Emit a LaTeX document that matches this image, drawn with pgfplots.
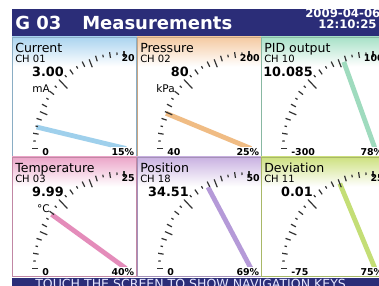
\documentclass[border=0pt]{standalone}
\usepackage{pgfplots}
\pgfplotsset{compat=1.18}
\usepackage{fontspec}
\setmainfont{DejaVu Sans}
\definecolor{navy}{HTML}{2B2D78}
\definecolor{hA}{HTML}{A9D3EF}\definecolor{nA}{HTML}{9FD0EC}
\definecolor{hB}{HTML}{F4C9A0}\definecolor{nB}{HTML}{F0BC84}
\definecolor{hC}{HTML}{A6E0C6}\definecolor{nC}{HTML}{9FDBBE}
\definecolor{hD}{HTML}{EBA5C8}\definecolor{nD}{HTML}{E48CBA}
\definecolor{hE}{HTML}{C8B0E0}\definecolor{nE}{HTML}{B59AD8}
\definecolor{hF}{HTML}{CDE07E}\definecolor{nF}{HTML}{C4DE76}
\newcommand{\panelbg}[3]{%
  \shade[top color=#3, bottom color=white] (#1,#2) rectangle ({#1+125},{#2+30});
  \draw[#3!70!black!60!#3, line width=0.8pt] ({#1+0.6},{#2+0.6}) rectangle ({#1+124.4},{#2+120.4});
}
\newcommand{\panelfg}[9]{%
  \foreach \k in {0,...,20}{%
    \pgfmathsetmacro\a{180-4.5*\k}%
    \pgfmathsetmacro\ri{ifthenelse(\k==10,80,ifthenelse(\k==5||\k==15,83,ifthenelse(\k==0,86,ifthenelse(mod(\k,2)==0,86.5,88.5))))}%
    \pgfmathsetmacro\ro{ifthenelse(mod(\k,2)==0,92,91)}%
    \draw[black!80, line width=0.9pt] ({#1+112+\ri*cos(\a)},{#2+112-1.06*\ri*sin(\a)}) -- ({#1+112+\ro*cos(\a)},{#2+112-1.06*\ro*sin(\a)});
  }
  \node[anchor=base west, inner sep=0, font=\fontsize{9.4}{10}\selectfont] at ({#1+3},{#2+16}) {#3};
  \node[anchor=base west, inner sep=0, font=\fontsize{7.5}{8}\selectfont] at ({#1+3},{#2+26}) {#4};
  \node[anchor=base east, inner sep=0, font=\bfseries\fontsize{9.6}{10}\selectfont] at ({#1+52},{#2+40}) {#5};
  \node[anchor=base east, inner sep=0, font=\fontsize{7.9}{8}\selectfont] at ({#1+38},{#2+55.5}) {#6};
  \node[anchor=base east, inner sep=0, font=\bfseries\fontsize{7.1}{8}\selectfont] at ({#1+123},{#2+24.5}) {#7};
  \node[anchor=base west, inner sep=0, font=\bfseries\fontsize{7.1}{8}\selectfont] at ({#1+30},{#2+118.5}) {#8};
  \node[anchor=base east, inner sep=0.4pt, fill=white, font=\bfseries\fontsize{7.1}{8}\selectfont] at ({#1+123},{#2+118.5}) {#9\%};
}
\begin{document}
\begin{tikzpicture}
\path[use as bounding box] (0pt,0pt) rectangle (284.25pt,-214.5pt);
\clip (0pt,0pt) rectangle (284.25pt,-214.5pt);
\begin{scope}[x=0.75pt,y=-0.75pt]
  \fill[white] (0,0) rectangle (379,286);
  \fill[navy] (12,9) rectangle (379,36.5);
  \fill[navy] (12,278) rectangle (379,286);
  \panelbg{12}{36.5}{hA}
  \panelbg{137}{36.5}{hB}
  \panelbg{261}{36.5}{hC}
  \panelbg{12}{156.5}{hD}
  \panelbg{137}{156.5}{hE}
  \panelbg{261}{156.5}{hF}
  \node[anchor=base west, inner sep=0, text=white, font=\bfseries\fontsize{13.5}{14}\selectfont] at (15,29) {G 03};
  \node[anchor=base west, inner sep=0, text=white, font=\bfseries\fontsize{13.5}{14}\selectfont] at (82,29) {Measurements};
  \node[anchor=base west, inner sep=0, text height=6.4pt, text depth=0pt, text=white, font=\bfseries\fontsize{8.8}{9}\selectfont] at (305,17.8) {2009-04-06};
  \node[anchor=base west, inner sep=0, text height=6.4pt, text depth=0pt, text=white, font=\bfseries\fontsize{8.8}{9}\selectfont] at (318,28.2) {12:10:25};
  \node[anchor=base west, inner sep=0, text=blue!10!white, font=\fontsize{9.4}{10}\selectfont] at (35,288.5) {TOUCH THE SCREEN TO SHOW NAVIGATION KEYS};
\end{scope}
\begin{axis}[at={(0pt,-214.5pt)}, anchor=south west, scale only axis,
  width=284.25pt, height=214.5pt, xmin=0, xmax=379, ymin=0, ymax=286,
  y dir=reverse, hide axis, clip=false]
\addplot[no marks, line width=3.6pt, color=nA] coordinates {(126,148.5) (36.5,127.0)};
\addplot[no marks, line width=3.6pt, color=nB] coordinates {(251,148.5) (166.0,113.3)};
\addplot[no marks, line width=3.6pt, color=nC] coordinates {(375,148.5) (343.8,61.9)};
\addplot[no marks, line width=3.6pt, color=nD] coordinates {(126,268.5) (51.6,214.4)};
\addplot[no marks, line width=3.6pt, color=nE] coordinates {(251,268.5) (208.0,187.2)};
\addplot[no marks, line width=3.6pt, color=nF] coordinates {(375,268.5) (339.8,183.5)};
\end{axis}
\begin{scope}[x=0.75pt,y=-0.75pt]
  \panelfg{12}{36.5}{Current}{CH 01}{3.00}{mA}{20}{0}{15}
  \panelfg{137}{36.5}{Pressure}{CH 02}{80}{kPa}{200}{40}{25}
  \panelfg{261}{36.5}{PID output}{CH 10}{10.085}{}{100}{-300}{78}
  \panelfg{12}{156.5}{Temperature}{CH 03}{9.99}{°C}{25}{0}{40}
  \panelfg{137}{156.5}{Position}{CH 18}{34.51}{}{50}{0}{69}
  \panelfg{261}{156.5}{Deviation}{CH 11}{0.01}{}{25}{-75}{75}
\end{scope}
\end{tikzpicture}
\end{document}
